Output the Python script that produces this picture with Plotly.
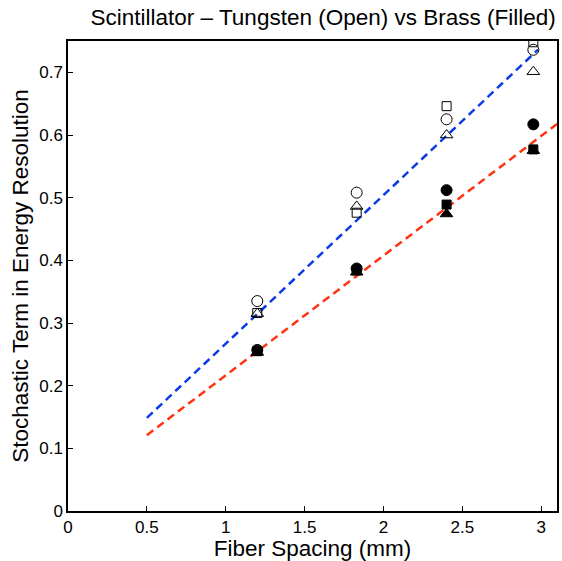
import plotly.graph_objects as go

# Fiber spacing (mm)
spacing = [1.2, 1.83, 2.4, 2.95]

# Tungsten (open markers)
w_circle = [0.335, 0.508, 0.625, 0.736]
w_square = [0.316, 0.476, 0.646, 0.748]
w_triangle = [0.315, 0.486, 0.600, 0.701]

# Brass (filled markers)
b_circle = [0.257, 0.387, 0.512, 0.617]
b_square = [0.255, 0.384, 0.489, 0.577]
b_triangle = [0.253, 0.381, 0.474, 0.575]

# Linear fits (slope, intercept) and their x span
w_fit_x = [0.5, 2.98]
b_fit_x = [0.5, 3.1]
w_fit = (0.237, 0.030)
b_fit = (0.191, 0.0255)

x_ticks = [0, 0.5, 1, 1.5, 2, 2.5, 3]
y_ticks = [0, 0.1, 0.2, 0.3, 0.4, 0.5, 0.6, 0.7]

fig = go.Figure()

def fit_line(xs, p):
    return [p[0] * x + p[1] for x in xs]

fig.add_trace(go.Scatter(x=w_fit_x, y=fit_line(w_fit_x, w_fit), mode="lines",
                         line=dict(color="#0b3be6", width=2.5, dash="8px,5px")))
fig.add_trace(go.Scatter(x=b_fit_x, y=fit_line(b_fit_x, b_fit), mode="lines",
                         line=dict(color="#ff3311", width=2.5, dash="8px,5px")))

def pts(y, sym, size):
    fig.add_trace(go.Scatter(x=spacing, y=y, mode="markers",
                             marker=dict(symbol=sym, size=size, color="black",
                                         line=dict(color="black", width=1))))

pts(w_circle, "circle-open", 11)
pts(w_square, "square-open", 9)
pts(w_triangle, "triangle-up-open", 11)
pts(b_circle, "circle", 11)
pts(b_square, "square", 9)
pts(b_triangle, "triangle-up", 11)

fig.update_layout(
    width=562, height=561,
    margin=dict(l=68, r=3, t=41, b=50),
    paper_bgcolor="white", plot_bgcolor="white",
    showlegend=False,
    font=dict(family="Liberation Sans, Arial, sans-serif", color="black"),
    title=dict(text="Scintillator \u2013 Tungsten (Open) vs Brass (Filled)",
               x=0.575, xanchor="center", y=0.969, yanchor="middle",
               font=dict(size=22.5)),
)
fig.update_xaxes(range=[0, 3.1], tickvals=x_ticks, ticktext=[str(v) for v in x_ticks],
                 ticks="inside", ticklen=5, tickcolor="black",
                 showline=True, linecolor="black", linewidth=1.5, mirror=True,
                 showgrid=False, zeroline=False, tickfont=dict(size=17),
                 title=dict(text="Fiber Spacing (mm)", font=dict(size=22.5), standoff=0))
fig.update_yaxes(range=[0, 0.75], tickvals=y_ticks, ticktext=[str(v) for v in y_ticks],
                 ticks="inside", ticklen=5, tickcolor="black",
                 showline=True, linecolor="black", linewidth=1.5, mirror=True,
                 showgrid=False, zeroline=False, tickfont=dict(size=17),
                 title=dict(text="Stochastic Term in Energy Resolution", font=dict(size=22.5), standoff=4))

fig.write_html("out.html")
